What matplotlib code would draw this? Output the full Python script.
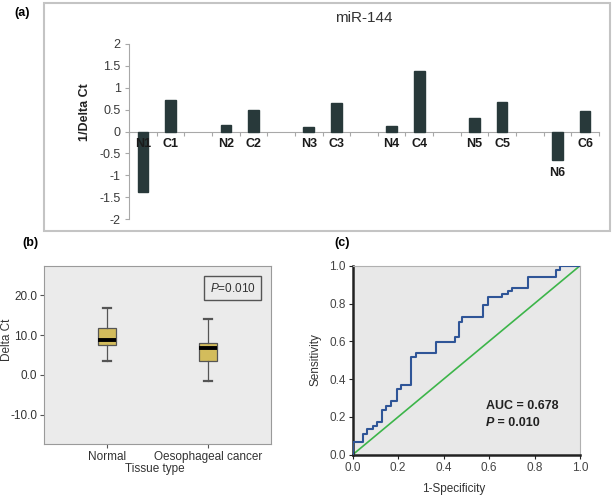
import numpy as np
import matplotlib
matplotlib.use("Agg")
import matplotlib.pyplot as plt
from matplotlib.patches import Rectangle

plt.rcParams['font.family'] = ['Liberation Sans', 'DejaVu Sans']
plt.rcParams['mathtext.fontset'] = 'custom'
plt.rcParams['mathtext.rm'] = 'Liberation Sans'
plt.rcParams['mathtext.it'] = 'Liberation Sans:italic'
plt.rcParams['mathtext.bf'] = 'Liberation Sans:bold'

# (a) miR-144 bar data, 1/Delta Ct
bar_labels = ['N1', 'C1', 'N2', 'C2', 'N3', 'C3', 'N4', 'C4', 'N5', 'C5', 'N6', 'C6']
bar_values = [-1.38, 0.71, 0.14, 0.49, 0.10, 0.65, 0.12, 1.38, 0.30, 0.67, -0.66, 0.47]

# (b) box plot summary (Delta Ct)
box_groups = ['Normal', 'Oesophageal cancer']
box_whislo = [3.5, -1.4]
box_q1 = [7.4, 3.6]
box_med = [8.7, 6.7]
box_q3 = [11.7, 7.9]
box_whishi = [16.9, 13.9]

# (c) ROC curve vertices
roc_fpr = [0, 0, 0.047, 0.065, 0.091, 0.108, 0.130, 0.147, 0.167, 0.194, 0.211, 0.257, 0.279,
           0.367, 0.452, 0.466, 0.483, 0.575, 0.594, 0.656, 0.685, 0.700, 0.770, 0.894, 0.912, 1.0]
roc_tpr = [0, 0.067, 0.108, 0.134, 0.152, 0.171, 0.236, 0.257, 0.282, 0.346, 0.369, 0.515, 0.536,
           0.598, 0.624, 0.704, 0.728, 0.790, 0.834, 0.848, 0.866, 0.882, 0.940, 0.975, 1.0, 1.0]

W, H = 615, 497
fig = plt.figure(figsize=(W / 100, H / 100), dpi=100)


def fx(px):
    return px / W


def fy(py):
    return 1 - py / H


def axes_rect(x0, y0, x1, y1):
    return [fx(x0), fy(y1), fx(x1) - fx(x0), fy(y0) - fy(y1)]


# ---------- panel (a) ----------
fig.patches.append(Rectangle((fx(44), fy(231)), fx(610) - fx(44), fy(3) - fy(231),
                             transform=fig.transFigure, fill=False,
                             edgecolor='#c4c4c4', linewidth=1.5))
fig.text(fx(22), fy(13), '(a)', fontsize=9, fontweight='bold', ha='center', va='center')

ax1 = fig.add_axes(axes_rect(129, 44, 599, 219))
# groups of N, C followed by an empty slot
pos = []
for i in range(len(bar_labels)):
    pos.append((i // 2) * 3 + (i % 2))
n_slots = (len(bar_labels) // 2) * 3 - 1
ax1.bar(pos, bar_values, width=0.38, color='#28393a', edgecolor='#28393a', zorder=3)
ax1.set_xlim(-0.5, n_slots - 0.5)
ax1.set_ylim(-2, 2)
ax1.set_yticks(np.arange(-2, 2.01, 0.5))
ax1.set_yticklabels(['-2', '-1.5', '-1', '-0.5', '0', '0.5', '1', '1.5', '2'])
ax1.set_xticks(np.arange(-0.5, n_slots, 1.0))
ax1.set_xticklabels([])
for s in ['top', 'right']:
    ax1.spines[s].set_visible(False)
ax1.spines['bottom'].set_position(('data', 0))
ax1.spines['left'].set_color('#a8a8a8')
ax1.spines['bottom'].set_color('#a8a8a8')
ax1.tick_params(axis='y', length=3, color='#a8a8a8', labelsize=9, labelcolor='#3a3a3a', pad=3)
ax1.tick_params(axis='x', length=3, color='#a8a8a8', direction='out')
for p, lab, v in zip(pos, bar_labels, bar_values):
    y = -0.28
    if lab == 'N6':
        y = v - 0.3
    ax1.text(p, y, lab, ha='center', va='center', fontsize=9, fontweight='bold',
             color='#1a1a1a')
fig.text(fx(364), fy(18), 'miR-144', fontsize=11, ha='center', va='center', color='#333333')
fig.text(fx(85), fy(112), '1/Delta Ct', fontsize=9, fontweight='bold', rotation=90,
         ha='center', va='center', color='#222222')

# ---------- panel (b) ----------
fig.text(fx(30), fy(243), '(b)', fontsize=9, fontweight='bold', ha='center', va='center')
ax2 = fig.add_axes(axes_rect(44, 266, 271, 444))
ax2.set_facecolor('#ebebeb')
stats = []
for i in range(len(box_groups)):
    stats.append({'med': box_med[i], 'q1': box_q1[i], 'q3': box_q3[i],
                  'whislo': box_whislo[i], 'whishi': box_whishi[i], 'fliers': []})
ax2.bxp(stats, positions=[1, 2], widths=0.178, capwidths=0.08, patch_artist=True,
        showfliers=False,
        boxprops=dict(facecolor='#d3bc5c', edgecolor='#555555', linewidth=0.9),
        medianprops=dict(color='black', linewidth=2.8),
        whiskerprops=dict(color='#555555', linewidth=0.9),
        capprops=dict(color='#555555', linewidth=1.6))
ax2.set_xlim(0.375, 2.625)
ax2.set_ylim(-17.3, 27.3)
ax2.set_yticks([-10, 0, 10, 20])
ax2.set_yticklabels(['-10.0', '0.0', '10.0', '20.0'])
ax2.set_xticks([1, 2])
ax2.set_xticklabels(box_groups)
for s in ax2.spines.values():
    s.set_color('#9a9a9a')
ax2.tick_params(length=3, color='#555555', labelsize=8.5, labelcolor='#333333', pad=2)
ax2.text(0.83, 0.876, '$\\it{P}$=0.010', transform=ax2.transAxes, fontsize=8.5,
         ha='center', va='center', color='#333333',
         bbox=dict(boxstyle='square,pad=0.45', facecolor='#ebebeb', edgecolor='#555555',
                   linewidth=1.0))
fig.text(fx(155), fy(469), 'Tissue type', fontsize=8.5, ha='center', va='center', color='#333333')
fig.text(fx(7), fy(340), 'Delta Ct', fontsize=8.5, rotation=90, ha='center', va='center',
         color='#333333')

# ---------- panel (c) ----------
fig.text(fx(342), fy(243), '(c)', fontsize=9, fontweight='bold', ha='center', va='center')
ax3 = fig.add_axes(axes_rect(352.7, 265.7, 580, 454.7))
ax3.set_facecolor('#e8e8e8')
ax3.plot([0, 1], [0, 1], color='#3db54a', linewidth=1.2, zorder=2)
ax3.step(roc_fpr, roc_tpr, where='post', color='#2f5597', linewidth=1.5, zorder=3)
ax3.set_xlim(0, 1)
ax3.set_ylim(0, 1)
ticks = np.arange(0, 1.01, 0.2)
ax3.set_xticks(ticks)
ax3.set_yticks(ticks)
ax3.set_xticklabels(['%.1f' % t for t in ticks])
ax3.set_yticklabels(['%.1f' % t for t in ticks])
ax3.spines['left'].set_color('#222222')
ax3.spines['bottom'].set_color('#222222')
ax3.spines['left'].set_linewidth(1.8)
ax3.spines['bottom'].set_linewidth(1.8)
ax3.spines['top'].set_color('#b0b0b0')
ax3.spines['right'].set_color('#b0b0b0')
ax3.tick_params(length=3, color='#222222', labelsize=8.5, labelcolor='#444444', pad=2)
ax3.text(0.585, 0.26, 'AUC = 0.678', transform=ax3.transAxes, fontsize=9,
         fontweight='bold', ha='left', va='center', color='#222222')
p_txt = ax3.text(0.585, 0.17, 'P', transform=ax3.transAxes, fontsize=9,
                 fontweight='bold', fontstyle='italic', ha='left', va='center', color='#222222')
ax3.annotate(' = 0.010', xy=(1, 0.5), xycoords=p_txt, fontsize=9, fontweight='bold',
             ha='left', va='center', color='#222222')
fig.text(fx(316), fy(360), 'Sensitivity', fontsize=8.5, rotation=90, ha='center', va='center',
         color='#333333')
fig.text(fx(454), fy(489), '1-Specificity', fontsize=8.5, ha='center', va='center',
         color='#333333')

fig.savefig('out.png', dpi=100)
